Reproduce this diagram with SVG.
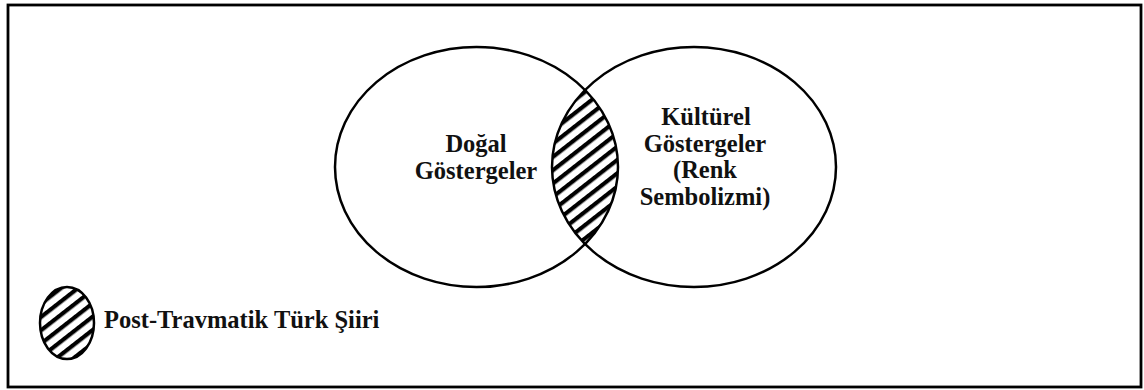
<svg xmlns="http://www.w3.org/2000/svg" width="1144" height="390" viewBox="0 0 1144 390">
<style>
.ol{fill:none;stroke:#000;stroke-width:2.5}
.t{font-family:"Liberation Serif","Times New Roman",serif;font-weight:bold;fill:#111;text-anchor:middle;font-size:24.5px}
</style>
<defs>
<pattern id="hatch" patternUnits="userSpaceOnUse" width="10.5" height="10.5" patternTransform="rotate(-38)">
<rect x="0" y="0" width="10.5" height="4.2" fill="#000"/>
</pattern>
<clipPath id="leftClip"><ellipse cx="476.5" cy="167" rx="141.5" ry="120"/></clipPath>
</defs>
<rect x="0" y="0" width="1144" height="390" fill="#fff"/>
<rect x="8" y="5" width="1133" height="382" fill="none" stroke="#000" stroke-width="2.8"/>
<g id="overlap">
<ellipse cx="694" cy="167" rx="142" ry="120" fill="url(#hatch)" clip-path="url(#leftClip)"/>
</g>
<g id="dogal">
<ellipse class="ol" cx="476.5" cy="167" rx="141.5" ry="120"/>
<text class="t" x="476" y="152">Doğal</text>
<text class="t" x="476" y="179">Göstergeler</text>
</g>
<g id="kulturel">
<ellipse class="ol" cx="694" cy="167" rx="142" ry="120"/>
<text class="t" x="706" y="125">Kültürel</text>
<text class="t" x="705" y="152">Göstergeler</text>
<text class="t" x="705" y="178">(Renk</text>
<text class="t" x="705" y="205">Sembolizmi)</text>
</g>
<g id="legend">
<ellipse cx="67" cy="323" rx="27" ry="36" fill="url(#hatch)" stroke="#000" stroke-width="2.5"/>
<text class="t" x="104" y="328" style="text-anchor:start">Post-Travmatik Türk Şiiri</text>
</g>
</svg>
